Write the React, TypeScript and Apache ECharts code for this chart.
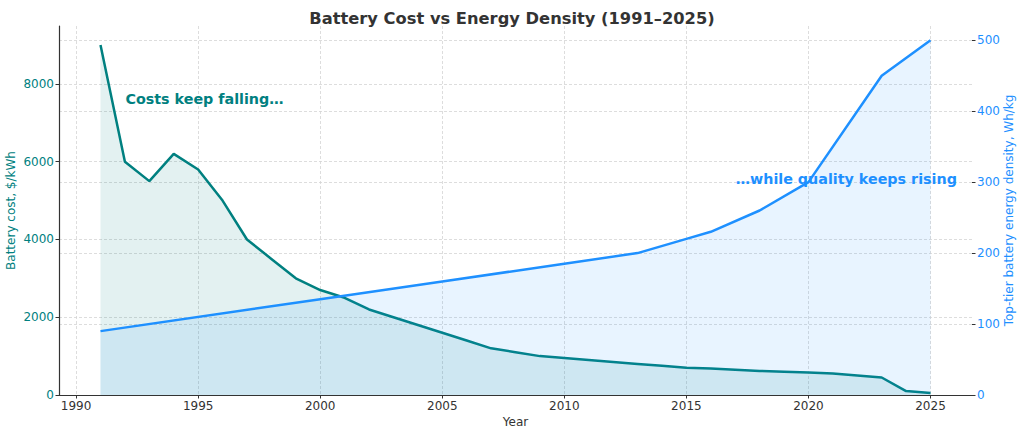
import React, { useEffect, useRef } from "react";
import * as echarts from "echarts";

const costYears = [1991, 1992, 1993, 1994, 1995, 1996, 1997, 1998, 1999, 2000, 2001, 2002, 2003, 2004, 2005, 2006, 2007, 2008, 2009, 2010, 2011, 2012, 2013, 2014, 2015, 2016, 2017, 2018, 2019, 2020, 2021, 2022, 2023, 2024, 2025];
const costValues = [9000, 6000, 5500, 6200, 5800, 5000, 4000, 3500, 3000, 2700, 2500, 2200, 2000, 1800, 1600, 1400, 1200, 1100, 1000, 950, 900, 850, 800, 750, 700, 680, 650, 620, 600, 580, 550, 500, 450, 100, 50];

const densityYears = [1991, 2000, 2005, 2010, 2013, 2015, 2016, 2018, 2020, 2023, 2025];
const densityValues = [90, 135, 160, 185, 200, 220, 230, 260, 300, 450, 500];

const xTicks = [1990, 1995, 2000, 2005, 2010, 2015, 2020, 2025];
const costTicks = [0, 2000, 4000, 6000, 8000];
const densityTicks = [0, 100, 200, 300, 400, 500];

const TITLE = "Battery Cost vs Energy Density (1991–2025)";
const COST_NOTE = "Costs keep falling…";
const DENSITY_NOTE = "…while quality keeps rising";

const TEAL = "#008080";
const BLUE = "#1e90ff";
const FONT = "DejaVu Sans";

const grid = { type: [3, 2], color: "#d4d4d4", width: 0.8 };
const plain = (v: number) => String(v);

export default function App() {
  const ref = useRef<HTMLDivElement>(null);
  useEffect(() => {
    if (!ref.current) return;
    const chart = echarts.init(ref.current, null, { renderer: "svg" });
    chart.setOption({
      animation: false,
      textStyle: { fontFamily: FONT },
      title: {
        text: TITLE,
        left: "center",
        top: 5,
        textStyle: { fontFamily: FONT, fontSize: 16.3, fontWeight: "bold", color: "#333" },
      },
      grid: { left: 59, right: 52, top: 26, bottom: 40, containLabel: false, outerBoundsMode: "none" },
      xAxis: {
        type: "value",
        min: 1989.3,
        max: 2026.7,
        name: "Year",
        nameLocation: "middle",
        nameGap: 21,
        nameMoveOverlap: false,
        nameTextStyle: { fontSize: 12, color: "#333", fontFamily: FONT },
        axisLine: { show: true, lineStyle: { color: "#333", width: 1.2 } },
        axisTick: { show: true, length: 3.5, customValues: xTicks, lineStyle: { color: "#333" } },
        axisLabel: { customValues: xTicks, fontSize: 12, color: "#333", margin: 5, fontFamily: FONT, formatter: plain },
        splitLine: { show: true, lineStyle: grid },
      },
      yAxis: [
        {
          type: "value",
          min: 0,
          max: 9490,
          position: "left",
          name: "Battery cost, $/kWh",
          nameLocation: "middle",
          nameGap: 42,
          nameMoveOverlap: false,
          nameTextStyle: { fontSize: 12, color: TEAL, fontFamily: FONT },
          axisLine: { show: true, lineStyle: { color: "#333", width: 1.2 } },
          axisTick: { show: true, length: 3.5, customValues: costTicks, lineStyle: { color: "#333" } },
          axisLabel: { customValues: costTicks, fontSize: 12, color: TEAL, margin: 5, fontFamily: FONT, formatter: plain },
          splitLine: { show: true, lineStyle: grid },
        },
        {
          type: "value",
          min: 0,
          max: 520,
          position: "right",
          name: "Top-tier battery energy density, Wh/kg",
          nameLocation: "middle",
          nameGap: 31,
          nameMoveOverlap: false,
          nameTextStyle: { fontSize: 12, color: BLUE, fontFamily: FONT },
          axisLine: { show: false },
          axisTick: { show: true, length: 3.5, customValues: densityTicks, lineStyle: { color: "#333" } },
          axisLabel: { customValues: densityTicks, fontSize: 12, color: BLUE, margin: 5, fontFamily: FONT, formatter: plain },
          splitLine: { show: true, lineStyle: grid },
        },
      ],
      series: [
        {
          type: "line",
          yAxisIndex: 0,
          data: costYears.map((y, i) => [y, costValues[i]]),
          showSymbol: false,
          lineStyle: { color: TEAL, width: 2.5 },
          itemStyle: { color: TEAL },
          areaStyle: { color: TEAL, opacity: 0.11 },
          z: 3,
          markPoint: {
            symbol: "circle",
            symbolSize: 1,
            itemStyle: { color: "rgba(0,0,0,0)" },
            data: [
              {
                coord: [1992, 7600],
                label: {
                  show: true,
                  formatter: COST_NOTE,
                  position: "right",
                  distance: 0,
                  fontSize: 14.3,
                  fontWeight: "bold",
                  color: TEAL,
                  fontFamily: FONT,
                },
              },
            ],
          },
        },
        {
          type: "line",
          yAxisIndex: 1,
          data: densityYears.map((y, i) => [y, densityValues[i]]),
          showSymbol: false,
          lineStyle: { color: BLUE, width: 2.5 },
          itemStyle: { color: BLUE },
          areaStyle: { color: BLUE, opacity: 0.1 },
          z: 4,
          markPoint: {
            symbol: "circle",
            symbolSize: 1,
            itemStyle: { color: "rgba(0,0,0,0)" },
            data: [
              {
                coord: [2017, 305],
                label: {
                  show: true,
                  formatter: DENSITY_NOTE,
                  position: "right",
                  distance: 0,
                  fontSize: 14.3,
                  fontWeight: "bold",
                  color: BLUE,
                  fontFamily: FONT,
                },
              },
            ],
          },
        },
      ],
    });
    return () => chart.dispose();
  }, []);
  return <div ref={ref} style={{ width: 1024, height: 435, position: "absolute", left: 0, top: 0 }} />;
}
